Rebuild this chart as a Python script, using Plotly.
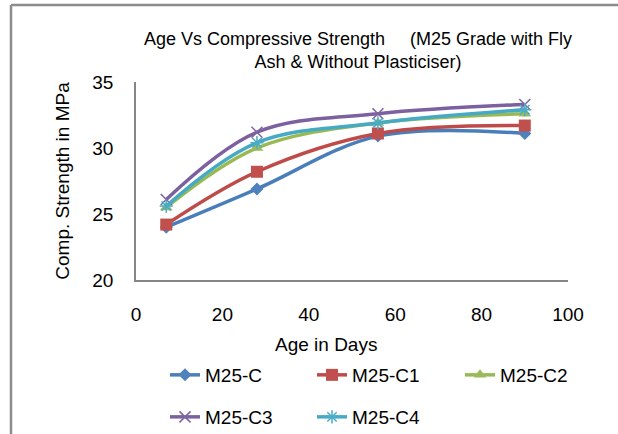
import plotly.graph_objects as go

# Curing age (days) and compressive strength (MPa) for each mix
age_days = [7, 28, 56, 90]
series_names = ["M25-C", "M25-C1", "M25-C2", "M25-C3", "M25-C4"]
m25_c = [24.0, 26.9, 30.9, 31.1]
m25_c1 = [24.2, 28.2, 31.1, 31.7]
m25_c2 = [25.5, 30.0, 31.9, 32.6]
m25_c3 = [26.1, 31.2, 32.6, 33.3]
m25_c4 = [25.6, 30.4, 31.9, 32.9]
x_ticks = [0, 20, 40, 60, 80, 100]
y_ticks = [20, 25, 30, 35]

W, H = 618, 434
ML, MR, MT, MB = 136, 50, 82, 154
PW, PH = W - ML - MR, H - MT - MB


def px_x(p):
    return (p - ML) / PW


def px_y(p):
    return (H - MB - p) / PH


FONT = "Liberation Sans, Arial, sans-serif"

styles = [
    dict(line="#4A7EBB", marker="#4F81BD", symbol="diamond", size=10, lw=0),
    dict(line="#BE4B48", marker="#C0504D", symbol="square", size=12, lw=0),
    dict(line="#98B954", marker="#9BBB59", symbol="triangle-up", size=11, lw=0),
    dict(line="#7D60A0", marker="#8064A2", symbol="x-thin-open", size=11, lw=1.5),
    dict(line="#46AAC5", marker="#4BACC6", symbol="asterisk-open", size=11, lw=1.5),
]
values = [m25_c, m25_c1, m25_c2, m25_c3, m25_c4]

# each legend entry gets its own legend box, laid out in a 3 + 2 grid
legend_ids = ["legend", "legend2", "legend3", "legend4", "legend5"]
legend_pos = [(165, 356), (312, 356), (460, 356), (165, 398), (312, 398)]

fig = go.Figure()
for name, vals, st, lg in zip(series_names, values, styles, legend_ids):
    fig.add_trace(go.Scatter(
        x=age_days, y=vals, name=name, mode="lines+markers",
        line=dict(color=st["line"], width=3.5, shape="spline"),
        marker=dict(symbol=st["symbol"], size=st["size"], color=st["marker"],
                    line=dict(color=st["marker"], width=st["lw"])),
        legend=lg,
    ))

axis_common = dict(
    showgrid=False, zeroline=False, showline=True,
    linecolor="#868686", linewidth=1.5, ticks="",
    tickfont=dict(family=FONT, size=19, color="#000000"),
)

legend_layout = {}
for lg, (lx, ly) in zip(legend_ids, legend_pos):
    legend_layout[lg] = dict(
        orientation="h", xanchor="left", yanchor="top",
        x=px_x(lx), y=px_y(ly),
        font=dict(family=FONT, size=19, color="#000000"),
        bgcolor="rgba(0,0,0,0)",
    )

fig.update_layout(
    width=W, height=H,
    margin=dict(l=ML, r=MR, t=MT, b=MB, pad=0, autoexpand=False),
    paper_bgcolor="white", plot_bgcolor="white",
    showlegend=True,
    title=dict(
        text="Age Vs Compressive Strength\u00a0\u00a0\u00a0\u00a0\u00a0(M25 Grade with Fly<br>Ash & Without Plasticiser)",
        font=dict(family=FONT, size=18, color="#000000"),
        xref="container", yref="container",
        x=358 / W, xanchor="center",
        y=1 - 45 / H, yanchor="top",
    ),
    xaxis=dict(range=[0, 100], tickvals=x_ticks, ticklabelstandoff=16, **axis_common),
    yaxis=dict(range=[20, 35], tickvals=y_ticks, ticklabelstandoff=17,
               title=dict(text="Comp. Strength in MPa", standoff=18,
                          font=dict(family=FONT, size=19, color="#000000")),
               **axis_common),
    annotations=[
        dict(text="Age in Days", x=px_x(326), y=px_y(344), xref="paper", yref="paper",
             xanchor="center", yanchor="middle", showarrow=False,
             font=dict(family=FONT, size=19, color="#000000")),
    ],
    shapes=[
        dict(type="line", xref="paper", yref="paper", x0=px_x(11), x1=px_x(640),
             y0=px_y(5), y1=px_y(5), line=dict(color="#8C8C8C", width=2.5)),
        dict(type="line", xref="paper", yref="paper", x0=px_x(11), x1=px_x(11),
             y0=px_y(5), y1=px_y(450), line=dict(color="#8C8C8C", width=2.5)),
    ],
    **legend_layout,
)

fig.write_html("out.html")
